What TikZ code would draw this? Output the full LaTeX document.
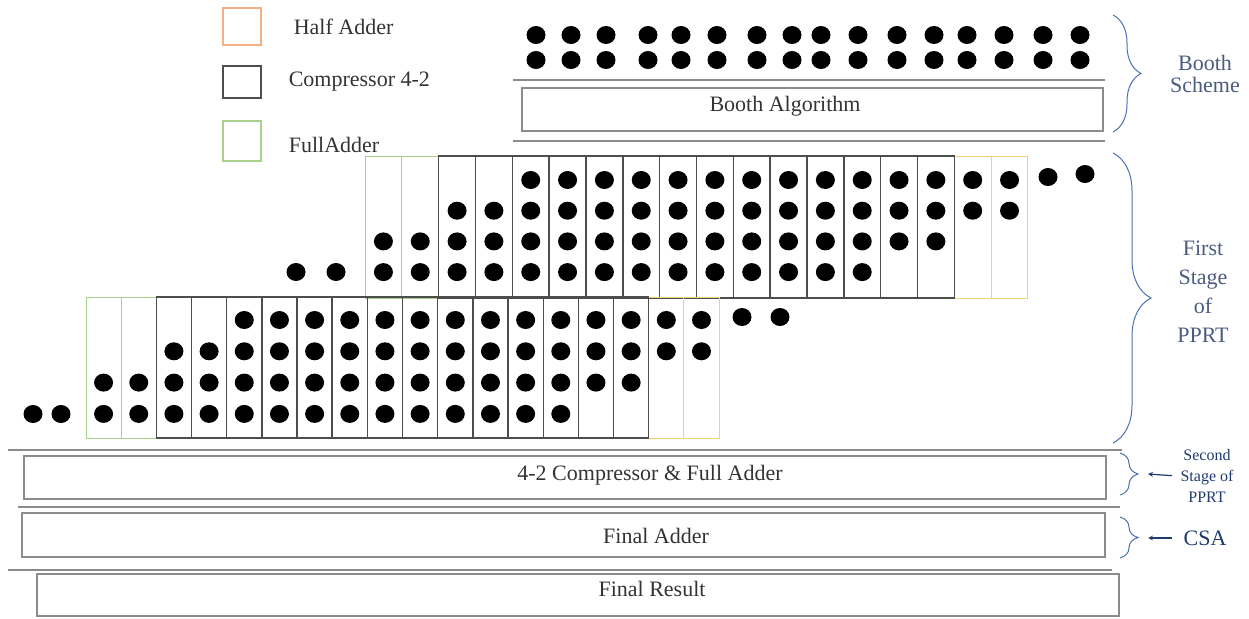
\documentclass[tikz,border=0pt]{standalone}
\usepackage{xcolor}
\usepackage{fontspec}
\setmainfont{Liberation Serif}
\usepackage{tikz}
\usetikzlibrary{shapes,arrows,positioning,calc,decorations.pathreplacing}

\definecolor{haorange}{HTML}{F4B183}
\definecolor{hayellow}{HTML}{F2D36E}
\definecolor{fagreen}{HTML}{A9D18E}
\definecolor{cpgray}{HTML}{4D4D4D}
\definecolor{bargray}{HTML}{8C8C8C}
\definecolor{braceblue}{HTML}{4A72B0}
\definecolor{labelblue}{HTML}{4A5C80}
\definecolor{navy}{HTML}{1F3A6E}

\begin{document}
\begin{tikzpicture}[
    x=1pt, y=-1pt,
    dot/.style={fill=black},
    legendbox/.style={rectangle, line width=1.2pt, minimum width=38pt, inner sep=0pt},
    legendtext/.style={font=\fontsize{22}{24}\selectfont, text=black!80, inner sep=0pt},
    hacell/.style={draw=hayellow, line width=1pt},
    facell/.style={draw=fagreen, line width=1pt},
    cpcell/.style={draw=cpgray, line width=1.4pt},
    bar/.style={rectangle, draw=bargray, line width=2pt, inner sep=0pt},
    bartext/.style={font=\fontsize{22}{24}\selectfont, text=black!80, inner sep=0pt},
    sepline/.style={draw=bargray, line width=2pt},
    stagebrace/.style={draw=braceblue, line width=1pt, decorate, decoration={brace, amplitude=#1}},
    stagelabel/.style={align=center, text=labelblue, font=\fontsize{22}{22}\selectfont},
    arrow/.style={->, >=stealth, line width=1.2pt, navy}
]
\useasboundingbox (0,0) rectangle (1249,618);

% Legend (top left)
\node[legendbox, draw=haorange, minimum height=37pt] (ha) at (242,26.5) {};
\node[legendbox, draw=cpgray, minimum height=32pt] (cp) at (242,82) {};
\node[legendbox, draw=fagreen, minimum height=40pt] (fa) at (242,141) {};
\node[legendtext, right=32pt of ha] (hatext) {Half Adder};
\node[legendtext, right=27pt of cp] (cptext) {Compressor 4-2};
\node[legendtext, right=27pt of fa, yshift=-4pt] (fatext) {FullAdder};

% Booth scheme (partial products and booth bar)
\foreach \x in {536,571,606,648,681,717,757,792,821,858,897,934,967,1004,1043,1080} {
  \fill[dot] (\x,35) ellipse (9.5pt and 9pt);
  \fill[dot] (\x,60) ellipse (9.5pt and 9pt);
}
\draw[sepline] (513,80) -- (1105,80);
\node[bar, minimum width=581pt, minimum height=43pt] (booth) at (812.5,109.5) {};
\node[bartext] (boothtext) at (785,106) {Booth Algorithm};
\draw[sepline] (513,141) -- (1105,141);

% First stage of PPRT, upper group
\foreach \c in {0,1} \draw[facell] ({365+\c*36.83},156) rectangle ++(36.83,142);
\foreach \c in {16,17} \draw[hacell] ({365+\c*36.83},156) rectangle ++(36.83,142);
\foreach \c in {2,...,15} \draw[cpcell] ({365+\c*36.83},156) rectangle ++(36.83,142);
\foreach \c/\ra/\rb in {0/3/4,1/3/4,2/2/4,3/2/4,4/1/4,5/1/4,6/1/4,7/1/4,8/1/4,9/1/4,10/1/4,11/1/4,12/1/4,13/1/4,14/1/3,15/1/3,16/1/2,17/1/2}
  \foreach \r in {\ra,...,\rb}
    \fill[dot] ({365+(\c+0.5)*36.83},{180+(\r-1)*30.7}) ellipse (9.5pt and 9pt);
\foreach \x/\y in {296/272,336/272,1048/177,1085/174}
  \fill[dot] (\x,\y) ellipse (9.5pt and 9pt);

% First stage of PPRT, lower group
\foreach \c in {0,1} \draw[facell] ({86+\c*35.17},297) rectangle ++(35.17,141);
\foreach \c in {16,17} \draw[hacell] ({86+\c*35.17},297) rectangle ++(35.17,141);
\foreach \c in {2,...,15} \draw[cpcell] ({86+\c*35.17},297) rectangle ++(35.17,141);
\foreach \c/\ra/\rb in {0/3/4,1/3/4,2/2/4,3/2/4,4/1/4,5/1/4,6/1/4,7/1/4,8/1/4,9/1/4,10/1/4,11/1/4,12/1/4,13/1/4,14/1/3,15/1/3,16/1/2,17/1/2}
  \foreach \r in {\ra,...,\rb}
    \fill[dot] ({86+(\c+0.5)*35.17},{320+(\r-1)*31.3}) ellipse (9.5pt and 9pt);
\foreach \x/\y in {33/414,61/414,742/317,780/317}
  \fill[dot] (\x,\y) ellipse (9.5pt and 9pt);

% Second stage, final adder and result
\draw[sepline] (8,450) -- (1122,450);
\node[bar, minimum width=1082pt, minimum height=43pt] (second) at (565,477.5) {};
\node[bartext] (secondtext) at (650,475) {4-2 Compressor \& Full Adder};
\draw[sepline] (18,507) -- (1120,507);
\node[bar, minimum width=1083pt, minimum height=44pt] (final) at (563.5,535) {};
\node[bartext] (finaltext) at (656,536) {Final Adder};
\draw[sepline] (8,570) -- (1112,570);
\node[bar, minimum width=1082pt, minimum height=42pt] (result) at (578,595) {};
\node[bartext] (resulttext) at (652,589) {Final Result};

% Braces and stage labels (right side)
\draw[stagebrace=28pt] (1113,15) -- (1113,132);
\draw[stagebrace=38pt] (1113,153) -- (1113,443);
\draw[stagebrace=18pt] (1120,453) -- (1120,495);
\draw[stagebrace=18pt] (1120,517) -- (1120,558);
\node[stagelabel] (boothlbl) at (1205,74) {Booth\\Scheme};
\node[stagelabel, font=\fontsize{22}{29}\selectfont] (firstlbl) at (1203,292) {First\\Stage\\of\\PPRT};
\node[stagelabel, text=navy, font=\fontsize{16}{21}\selectfont] (secondlbl) at (1207,476) {Second\\Stage of\\PPRT};
\node[stagelabel, text=navy] (csalbl) at (1205,538) {CSA};
\coordinate (secondtip) at (1148,474);
\coordinate (csatip) at (1148,538);
\draw[arrow, shorten <=5pt] (secondlbl.west) -- (secondtip);
\draw[arrow, shorten <=8pt] (csalbl.west) -- (csatip);

\end{tikzpicture}
\end{document}
